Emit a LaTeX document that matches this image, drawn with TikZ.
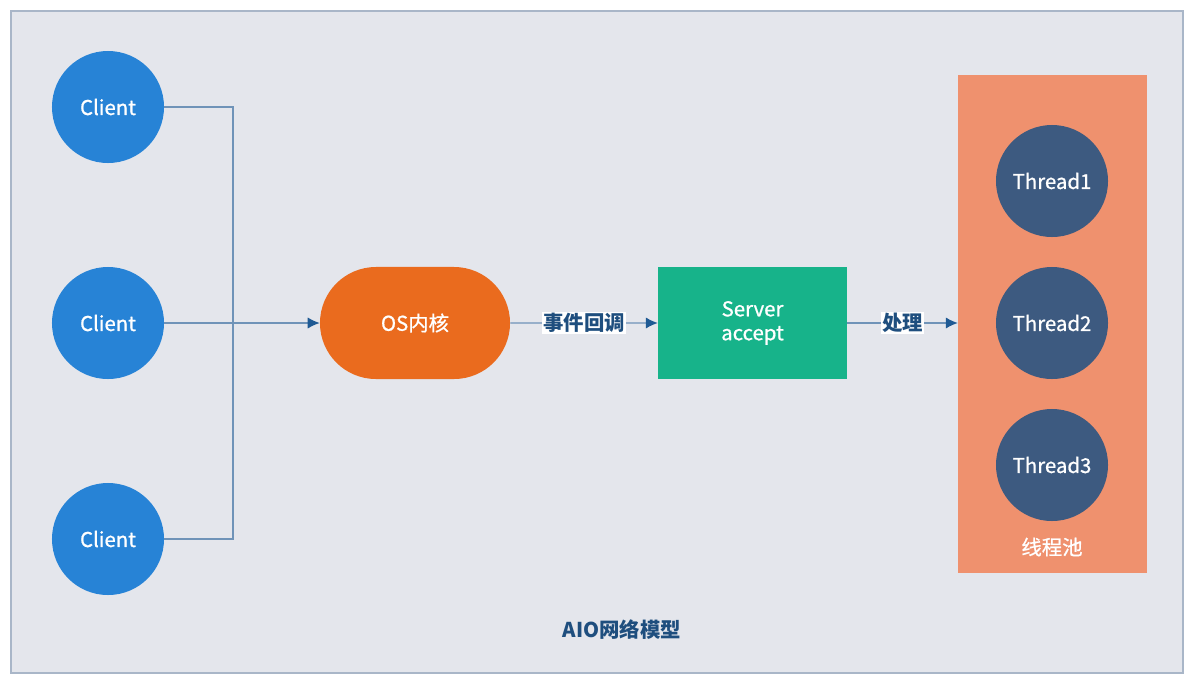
\documentclass[tikz,border=0pt]{standalone}
\usepackage{fontspec}
\setmainfont{Noto Sans CJK SC}
\newfontfamily\medfont[FakeBold=0.9]{Noto Sans CJK SC}
\usetikzlibrary{arrows, arrows.meta, shapes, positioning}
\definecolor{frameback}{HTML}{E4E6EC}
\definecolor{frameline}{HTML}{A9B6C8}
\definecolor{clientblue}{HTML}{2783D6}
\definecolor{osorange}{HTML}{EA6B1E}
\definecolor{servergreen}{HTML}{17B38A}
\definecolor{poolsalmon}{HTML}{EF916E}
\definecolor{threadnavy}{HTML}{3D5A80}
\definecolor{wireblue}{HTML}{6F93B8}
\definecolor{tipblue}{HTML}{1F5A94}
\definecolor{labelblue}{HTML}{1E4E7E}
\newcommand{\txt}{\fontsize{14.5}{17}\selectfont}
\tikzstyle{wire} = [draw=wireblue, line width=0.9pt]
\tikzstyle{arrow} = [wire, -{Latex[length=8.5pt, width=8pt, color=tipblue, fill=tipblue]}]
\tikzstyle{client} = [circle, fill=clientblue, text=white, minimum size=2.8cm, inner sep=0, font=\medfont\txt]
\tikzstyle{thread} = [circle, fill=threadnavy, text=white, minimum size=2.8cm, inner sep=0, font=\medfont\txt]
\tikzstyle{wirelabel} = [fill=white, text=labelblue, inner sep=1pt, font=\txt\bfseries]

\begin{document}
\begin{tikzpicture}[x=0.025cm, y=-0.025cm]
	\useasboundingbox (0, 0) rectangle (1198, 686);
	\draw [fill=frameback, draw=frameline, line width=1pt] (11, 11) rectangle (1183, 673);

	% clients
	\node (C1) [client] at (108, 107) {Client};
	\node (C2) [client] at (108, 323) {Client};
	\node (C3) [client] at (108, 539) {Client};

	\coordinate (Top) at (233, 107);
	\coordinate (Mid) at (233, 323);
	\coordinate (Bottom) at (233, 539);
	\draw [wire] (C1) -- (Top) -- (Bottom) -- (C3);
	\draw [wire] (C2) -- (Mid);

	% kernel
	\node (OS) [rounded rectangle, fill=osorange, text=white, minimum width=4.75cm,
	            minimum height=2.8cm, inner sep=0, font=\medfont\txt] at (415, 323) {OS内核};
	\draw [arrow] (Mid) -- (OS);

	% server
	\node (Server) [fill=servergreen, text=white, minimum width=4.72cm, minimum height=2.8cm,
	                align=center, font=\medfont\txt] at (752.5, 323) {Server\\accept};
	\draw [arrow] (OS) -- node [wirelabel] {事件回调} (Server);

	% thread pool
	\node (Pool) [fill=poolsalmon, minimum width=4.72cm, minimum height=12.45cm, inner sep=0]
	             at (1052.5, 324) {};
	\node (T1) [thread] at (1052, 181) {Thread1};
	\node (T2) [thread] at (1052, 323) {Thread2};
	\node (T3) [thread] at (1052, 465) {Thread3};
	\node (PoolName) [text=white, font=\medfont\txt] at (1052, 547) {线程池};
	\draw [arrow] (Server) -- node [wirelabel] {处理} (Pool.west |- Server);

	\node (Title) [text=labelblue, font=\txt\bfseries] at (622, 630) {AIO网络模型};
\end{tikzpicture}
\end{document}
